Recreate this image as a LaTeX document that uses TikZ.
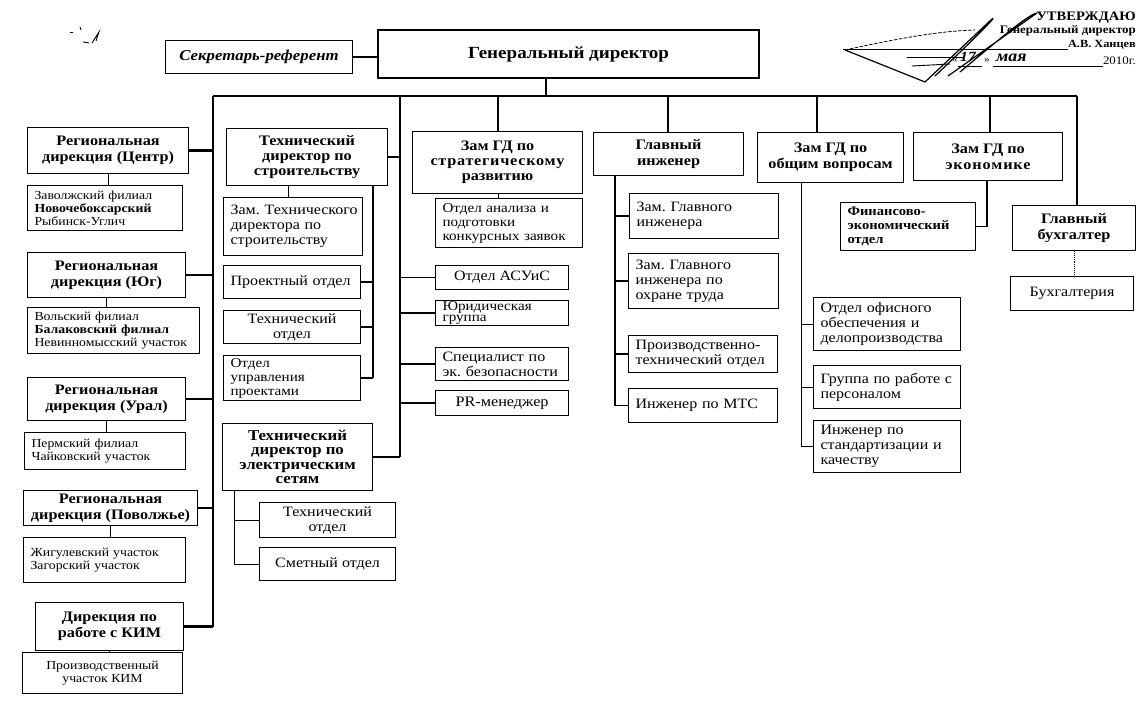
\documentclass[tikz,border=0pt]{standalone}
\usepackage{fontspec}
\setmainfont{Liberation Serif}[FakeStretch=1.12]
\newcommand\bx[7][]{\node[#1,anchor=north west,minimum width={#5-#3},minimum height={#6-#4}] (#2) at (#3,#4) {#7};}
\newcommand\lbx[7][]{\node[#1,anchor=north west,minimum width={#5-#3},minimum height={#6-#4},text width={#5-#3-14}] (#2) at (#3,#4) {#7};}
\tikzset{
 box/.style={draw,line width=1.1pt,inner xsep=4pt,inner ysep=0pt,align=center},
 lbox/.style={draw,line width=1.1pt,inner xsep=7pt,inner ysep=0pt,align=left},
 tb/.style={box,font=\fontsize{14.5}{16}\selectfont\bfseries},
 tds/.style={box,font=\fontsize{14.5}{15}\selectfont\bfseries},
 tde/.style={box,font=\fontsize{15}{14.5}\selectfont\bfseries},
 tbl/.style={lbox,font=\fontsize{13}{14}\selectfont\bfseries},
 gds/.style={box,line width=2.2pt,font=\fontsize{17}{19}\selectfont\bfseries},
 secs/.style={box,font=\fontsize{15}{16}\selectfont\bfseries\itshape},
 sb/.style={box,font=\fontsize{14.3}{15}\selectfont},
 lb/.style={lbox,font=\fontsize{14.3}{15}\selectfont},
 lbs/.style={lbox,font=\fontsize{13.5}{14}\selectfont},
 rb/.style={lbox,inner xsep=7pt,font=\fontsize{12.3}{13}\selectfont},
 rbc/.style={box,font=\fontsize{12.3}{13}\selectfont},
 pbs/.style={box,font=\fontsize{14.5}{15}\selectfont},
 bus/.style={line width=2.2pt},
 mid/.style={line width=1.4pt},
 thn/.style={line width=0.9pt},
 sig/.style={line width=1.2pt,line cap=round,line join=round},
 hw/.style={font=\fontsize{14}{15}\selectfont\bfseries\itshape,inner sep=0pt},
}
\begin{document}
\lefthyphenmin=64 \righthyphenmin=64
\begin{tikzpicture}[x=1pt,y=-1pt]
\useasboundingbox (0,0) rectangle (1141,711);
\fill[white] (0,0) rectangle (1141,711);
% boxes
\bx[secs]{sec}{165}{40}{352}{73}{Секретарь-референт}
\bx[gds]{gd}{377}{29}{758}{77}{Генеральный директор}
\bx[tb]{rc}{27}{127}{188}{173}{Региональная\\дирекция (Центр)}
\lbx[rb]{rcs}{27}{185}{182}{230}{Заволжский~филиал\\\textbf{Новочебоксарский}\\Рыбинск-Углич}
\bx[tb]{ry}{27}{252}{185}{297}{Региональная\\дирекция (Юг)}
\lbx[rb]{rys}{27}{307}{199}{353}{Вольский~филиал\\\textbf{Балаковский~филиал}\\Невинномысский~участок}
\bx[tb]{ru}{27}{377}{185}{420}{Региональная\\дирекция (Урал)}
\lbx[rb]{rus}{24}{432}{185}{469}{Пермский~филиал\\Чайковский~участок}
\bx[tb]{rp}{23}{490}{197}{525}{Региональная\\дирекция (Поволжье)}
\lbx[rb]{rps}{23}{537}{185}{582}{Жигулевский~участок\\Загорский~участок}
\bx[tb]{kim}{35}{602}{183}{650}{Дирекция по\\работе с КИМ}
\bx[rbc]{kims}{22}{652}{182}{693}{Производственный\\участок КИМ}
\bx[tds]{tds}{226}{128}{387}{185}{Технический\\директор по\\строительству}
\lbx[lb]{zts}{223}{197}{362}{255}{Зам.~Технического\\директора~по\\строительству}
\lbx[lb]{po}{223}{265}{360}{298}{Проектный~отдел}
\bx[sb]{to1}{223}{310}{360}{343}{Технический\\отдел}
\lbx[lbs]{oup}{223}{355}{360}{400}{Отдел\\управления\\проектами}
\bx[tde]{tde}{222}{423}{372}{490}{Технический\\директор по\\электрическим\\сетям}
\bx[sb]{to2}{259}{502}{395}{537}{Технический\\отдел}
\bx[sb]{so}{259}{547}{395}{580}{Сметный отдел}
\bx[tds]{zsr}{412}{131}{582}{193}{Зам ГД по\\{\addfontfeature{LetterSpace=5}стратегическому}\\развитию}
\lbx[lbs]{oa}{435}{198}{582}{247}{Отдел~анализа~и\\подготовки\\конкурсных~заявок}
\bx[sb]{asu}{435}{265}{568}{289}{Отдел АСУиС}
\lbx[lbs,font=\fontsize{13.5}{11.5}\selectfont]{yur}{435}{300}{568}{325}{Юридическая\\группа}
\lbx[lb]{spec}{435}{347}{568}{380}{Специалист~по\\эк.~безопасности}
\bx[pbs]{pr}{435}{390}{568}{415}{PR-менеджер}
\bx[tb]{gi}{593}{132}{743}{175}{Главный\\инженер}
\lbx[lb]{zgi}{629}{193}{778}{238}{Зам.~Главного\\инженера}
\lbx[lb]{zgiot}{628}{253}{778}{308}{Зам.~Главного\\инженера~по\\охране~труда}
\lbx[lb]{pto}{628}{335}{777}{372}{Производственно-\\технический~отдел}
\lbx[lb]{imts}{628}{388}{777}{422}{Инженер~по~МТС}
\bx[tb]{zov}{757}{132}{903}{182}{Зам ГД по\\общим вопросам}
\lbx[lb]{oo}{813}{297}{960}{350}{Отдел~офисного\\обеспечения~и\\делопроизводства}
\lbx[lb]{gp}{813}{365}{960}{408}{Группа~по~работе~с\\персоналом}
\lbx[lb]{isk}{813}{420}{960}{472}{Инженер~по\\стандартизации~и\\качеству}
\bx[tb]{ze}{913}{132}{1062}{180}{Зам ГД по\\{\addfontfeature{LetterSpace=6}экономике}}
\lbx[tbl]{feo}{840}{202}{975}{250}{Финансово-\\экономический\\отдел}
\bx[tb]{gb}{1012}{205}{1135}{250}{Главный\\бухгалтер}
\bx[sb]{buh}{1010}{276}{1133}{310}{Бухгалтерия}
% connectors
\coordinate (bL) at (213,96);
\coordinate (bR) at (1077,96);
\coordinate (gdx) at (546,96);
\coordinate (v4) at (400,96);
\coordinate (x498) at (498,96);
\coordinate (x668) at (668,96);
\coordinate (x817) at (817,96);
\coordinate (x990) at (990,96);
\coordinate (v373) at (373,0);
\coordinate (x288) at (288,0);
\coordinate (x234) at (234,0);
\coordinate (x615) at (615,0);
\coordinate (x801) at (801,0);
\coordinate (x987) at (987,0);
\draw[mid] (sec.east) -- (sec.east -| gd.west);
\draw[bus] (gdx |- gd.south) -- (gdx);
\draw[bus] (bL) -- (bR);
\draw[bus] (bL) -- (bL |- kim.east);
\foreach \n in {rc,ry,ru,rp,kim} \draw[bus] (\n.east) -- (\n.east -| bL);
\foreach \a/\b in {rc/rcs,ry/rys,ru/rus,rp/rps,kim/kims} \draw[thn] (\a.south) -- (\a.south |- \b.north);
\draw[bus] (v4) -- (v4 |- tde.east);
\draw[bus] (tde.east) -- (tde.east -| v4);
\draw[bus] (tds.east) -- (tds.east -| v4);
\foreach \n in {asu,yur,spec,pr} \draw[mid] (\n.west) -- (\n.west -| v4);
\draw[mid] (tds.south -| v373) -- (oup.east -| v373);
\foreach \n in {po,to1,oup} \draw[mid] (\n.east) -- (\n.east -| v373);
\draw[thn] (tds.south -| x288) -- (zts.north -| x288);
\draw[thn] (tde.south -| x234) -- (so.west -| x234);
\foreach \n in {to2,so} \draw[thn] (\n.west) -- (\n.west -| x234);
\draw[bus] (x498) -- (x498 |- zsr.north);
\draw[thn] (zsr.south -| x498) -- (oa.north -| x498);
\draw[bus] (x668) -- (x668 |- gi.north);
\draw[mid] (gi.south -| x615) -- (imts.west -| x615);
\foreach \n in {zgi,zgiot,pto,imts} \draw[mid] (\n.west) -- (\n.west -| x615);
\draw[bus] (x817) -- (x817 |- zov.north);
\draw[thn] (zov.south -| x801) -- (isk.west -| x801);
\foreach \n in {oo,gp,isk} \draw[thn] (\n.west) -- (\n.west -| x801);
\draw[bus] (x990) -- (x990 |- ze.north);
\draw[mid] (ze.south -| x987) -- (feo.east -| x987) -- (feo.east);
\draw[bus] (bR) -- (bR |- gb.north);
\draw[thn,densely dotted] (gb.south) -- (gb.south |- buh.north);
% approval block
\node[anchor=base east,font=\fontsize{13}{14}\selectfont\bfseries,inner sep=0pt] (utv) at (1136,21) {УТВЕРЖДАЮ};
\node[anchor=base east,font=\fontsize{11.5}{13}\selectfont\bfseries,inner sep=0pt] (gdr) at (1136,34) {Генеральный директор};
\node[anchor=base east,font=\fontsize{11}{13}\selectfont\bfseries,inner sep=0pt] (han) at (1136,48) {А.В. Ханцев};
\node[anchor=base east,font=\fontsize{11.5}{12}\selectfont,inner sep=0pt] (yr) at (1136,65) {2010г.};
\node[anchor=base west,font=\fontsize{10}{12}\selectfont,inner sep=0pt] (q1) at (952,63) {«};
\node[hw,anchor=base west] (d17) at (960,62) {17};
\node[anchor=base west,font=\fontsize{10}{12}\selectfont,inner sep=0pt] (q2) at (984,63) {»};
\node[hw,anchor=base west,font=\fontsize{16}{17}\selectfont\bfseries\itshape] (may) at (996,62) {мая};
\coordinate (ul1) at (843,49);
\coordinate (ul2) at (958,66);
\coordinate (ul3) at (993,66);
\draw[thn] (ul1) -- (han.west |- ul1);
\draw[thn] (ul2) -- ++(24,0);
\draw[thn] (ul3) -- (yr.west |- ul3);
% signature strokes
\coordinate (s1) at (845,50);
\coordinate (s2) at (925,82);
\coordinate (s3) at (992,19);
\coordinate (s4) at (948,76);
\coordinate (s5) at (1037,13);
\coordinate (s6) at (975,30);
\draw[sig,densely dashed,line width=0.8pt] (s1) .. controls (900,38) and (940,31) .. (s6);
\draw[sig] (s1) -- (s2) -- (s3) .. controls (996,16) and (990,24) .. (935,76);
\draw[sig] (s4) -- (s5) .. controls (1030,14) and (1010,30) .. (960,72);
\draw[sig,line width=0.9pt] (907,57) -- (963,57);
\draw[sig,line width=0.9pt] (912,66) -- (950,64);
% small scan mark
\coordinate (m1) at (70,32);
\draw[thn] (m1) -- ++(3,0);
\draw[thn] (80,27) -- (81,30);
\draw[thn] (83,42) -- (89,43);
\draw[thn] (92,43) -- (99,32) -- (96,41);
\end{tikzpicture}
\end{document}
